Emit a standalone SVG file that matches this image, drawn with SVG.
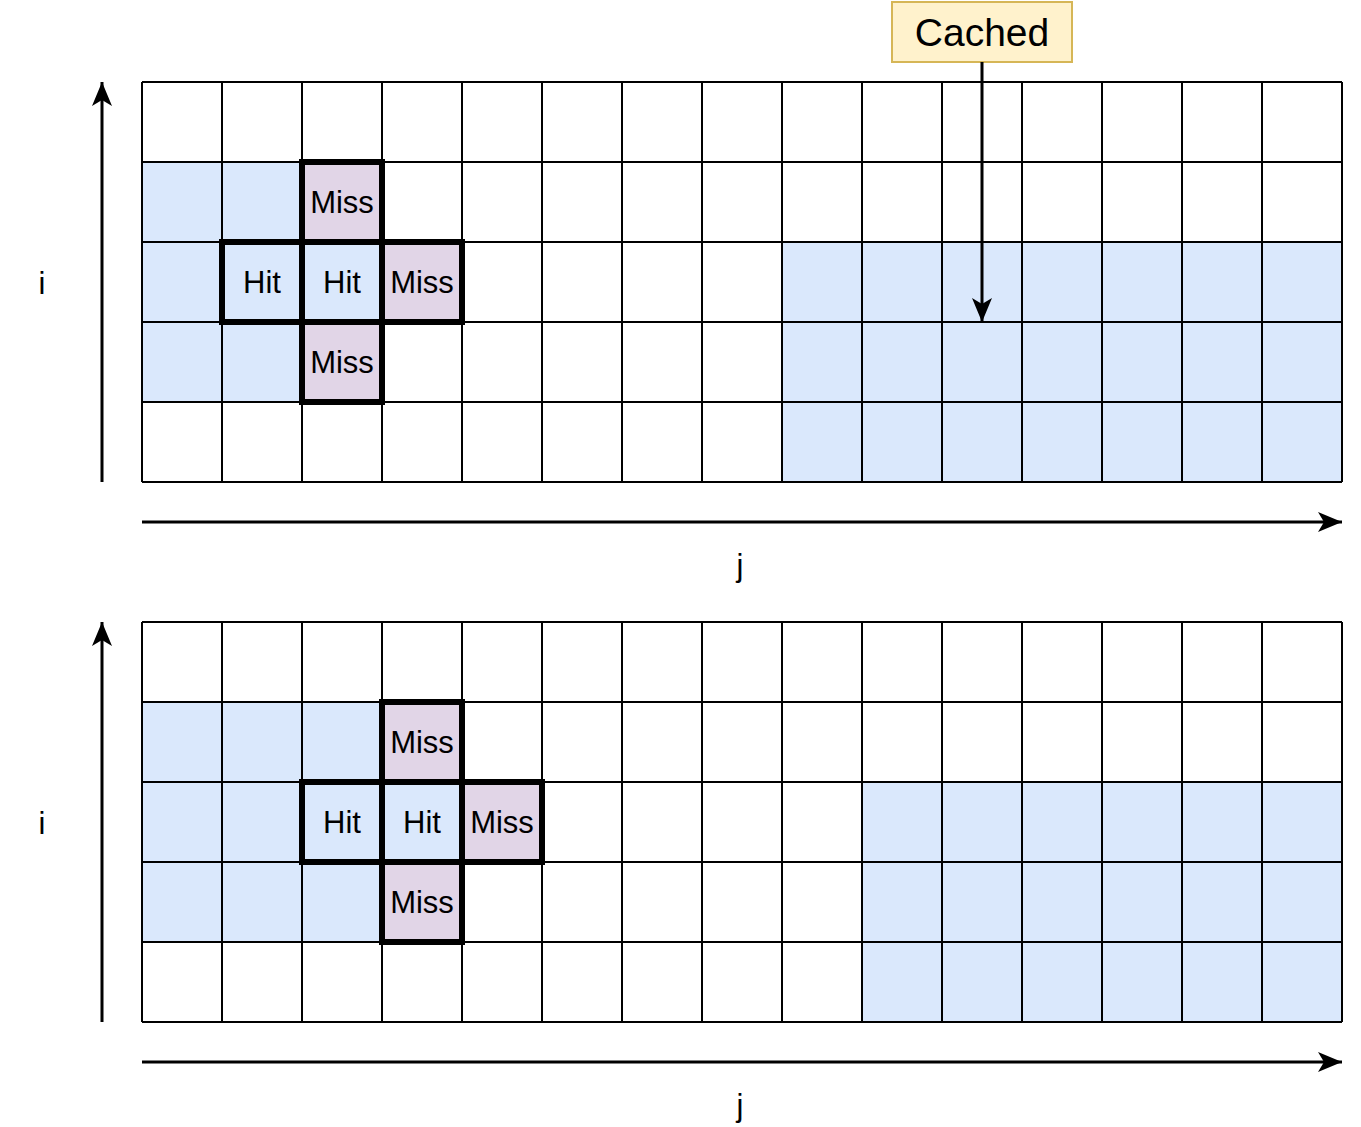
<svg xmlns="http://www.w3.org/2000/svg" width="1361" height="1127" viewBox="0 0 1361 1127">
<style>
.blue{fill:#dae8fc}
.miss{fill:#e1d5e7}
.thick{fill:none;stroke:#000000;stroke-width:6}
.t{font-family:"Liberation Sans",Arial,sans-serif;font-size:31px;fill:#000000;text-anchor:middle}
.ax{stroke:#000000;stroke-width:3;fill:none}
</style>
<defs>
<marker id="ah" viewBox="0 0 24 20" refX="24" refY="10" markerWidth="24" markerHeight="20" markerUnits="userSpaceOnUse" orient="auto">
<path d="M0,0 L24,10 L0,20 L6,10 Z" fill="#000"/>
</marker>
</defs>

<g id="grid-top">
<rect x="142" y="82" width="1200" height="400" fill="#fff"/>
<rect x="142" y="162" width="160" height="80" class="blue"/>
<rect x="142" y="242" width="240" height="80" class="blue"/>
<rect x="142" y="322" width="160" height="80" class="blue"/>
<rect x="302" y="162" width="80" height="80" class="miss"/>
<rect x="382" y="242" width="80" height="80" class="miss"/>
<rect x="302" y="322" width="80" height="80" class="miss"/>
<rect x="782" y="242" width="560" height="240" class="blue"/>
<g stroke="#000" stroke-width="2" fill="none">
<path d="M142,82 H1342 M142,162 H1342 M142,242 H1342 M142,322 H1342 M142,402 H1342 M142,482 H1342"/>
<path d="M142,82 V482 M222,82 V482 M302,82 V482 M382,82 V482 M462,82 V482 M542,82 V482 M622,82 V482 M702,82 V482 M782,82 V482 M862,82 V482 M942,82 V482 M1022,82 V482 M1102,82 V482 M1182,82 V482 M1262,82 V482 M1342,82 V482"/>
</g>
</g>
<g id="top-miss-1"><rect x="302" y="162" width="80" height="80" class="thick"/><text class="t" x="342" y="213">Miss</text></g>
<g id="top-hit-1"><rect x="222" y="242" width="80" height="80" class="thick"/><text class="t" x="262" y="293">Hit</text></g>
<g id="top-hit-2"><text class="t" x="342" y="293">Hit</text></g>
<g id="top-miss-2"><rect x="382" y="242" width="80" height="80" class="thick"/><text class="t" x="422" y="293">Miss</text></g>
<g id="top-miss-3"><rect x="302" y="322" width="80" height="80" class="thick"/><text class="t" x="342" y="373">Miss</text></g>

<g id="grid-bottom">
<rect x="142" y="622" width="1200" height="400" fill="#fff"/>
<rect x="142" y="702" width="240" height="80" class="blue"/>
<rect x="142" y="782" width="320" height="80" class="blue"/>
<rect x="142" y="862" width="240" height="80" class="blue"/>
<rect x="382" y="702" width="80" height="80" class="miss"/>
<rect x="462" y="782" width="80" height="80" class="miss"/>
<rect x="382" y="862" width="80" height="80" class="miss"/>
<rect x="862" y="782" width="480" height="240" class="blue"/>
<g stroke="#000" stroke-width="2" fill="none">
<path d="M142,622 H1342 M142,702 H1342 M142,782 H1342 M142,862 H1342 M142,942 H1342 M142,1022 H1342"/>
<path d="M142,622 V1022 M222,622 V1022 M302,622 V1022 M382,622 V1022 M462,622 V1022 M542,622 V1022 M622,622 V1022 M702,622 V1022 M782,622 V1022 M862,622 V1022 M942,622 V1022 M1022,622 V1022 M1102,622 V1022 M1182,622 V1022 M1262,622 V1022 M1342,622 V1022"/>
</g>
</g>
<g id="bot-miss-1"><rect x="382" y="702" width="80" height="80" class="thick"/><text class="t" x="422" y="753">Miss</text></g>
<g id="bot-hit-1"><rect x="302" y="782" width="80" height="80" class="thick"/><text class="t" x="342" y="833">Hit</text></g>
<g id="bot-hit-2"><text class="t" x="422" y="833">Hit</text></g>
<g id="bot-miss-2"><rect x="462" y="782" width="80" height="80" class="thick"/><text class="t" x="502" y="833">Miss</text></g>
<g id="bot-miss-3"><rect x="382" y="862" width="80" height="80" class="thick"/><text class="t" x="422" y="913">Miss</text></g>

<g id="cached">
<rect x="892" y="2" width="180" height="60" fill="#fff2cc" stroke="#d6b656" stroke-width="2"/>
<text class="t" x="982" y="46" style="font-size:39px">Cached</text>
</g>

<g id="labels">
<text class="t" x="42" y="294">i</text>
<text class="t" x="740" y="576">j</text>
<text class="t" x="42" y="834">i</text>
<text class="t" x="740" y="1116">j</text>
</g>

<g id="connectors">
<path class="ax" d="M982,62 V322" marker-end="url(#ah)"/>
<path class="ax" d="M102,482 V82" marker-end="url(#ah)"/>
<path class="ax" d="M142,522 H1342" marker-end="url(#ah)"/>
<path class="ax" d="M102,1022 V622" marker-end="url(#ah)"/>
<path class="ax" d="M142,1062 H1342" marker-end="url(#ah)"/>
</g>
</svg>
